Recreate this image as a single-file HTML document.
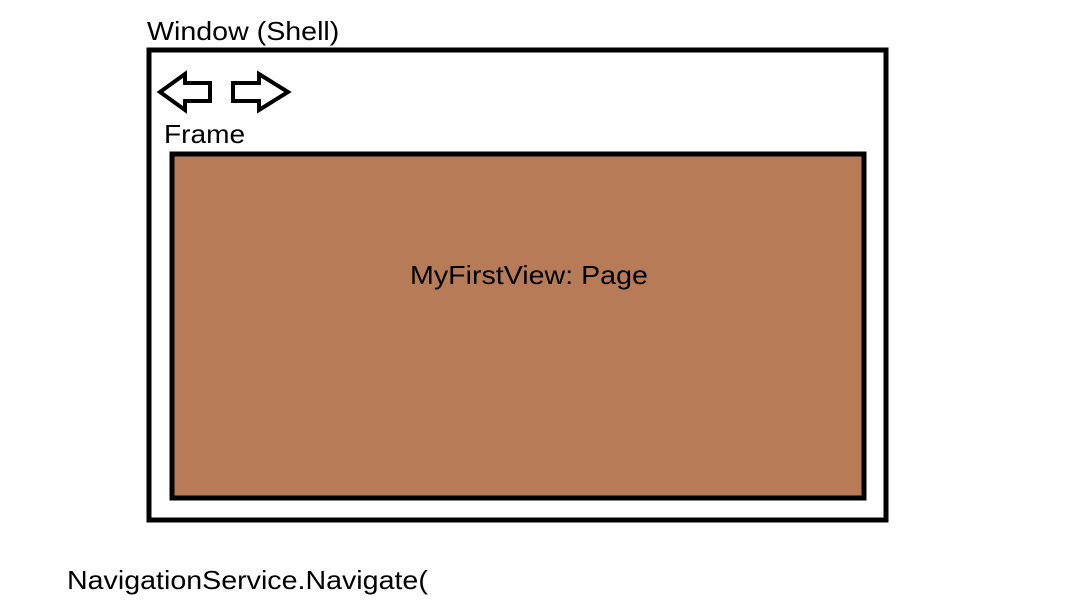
<!DOCTYPE html>
<html><head><style>
body{margin:0;width:1087px;height:614px;background:#fff;position:relative;overflow:hidden;font-family:"Liberation Sans",sans-serif;}
.t{position:absolute;font-size:26px;color:#000;white-space:nowrap;line-height:1;transform:scaleX(1.1);transform-origin:0 0;}
</style></head><body>
<svg width="1087" height="614" style="position:absolute;left:0;top:0">
<rect x="149" y="50" width="737" height="470" fill="none" stroke="#000" stroke-width="5"/>
<rect x="172" y="154" width="692" height="344" fill="#b87b58" stroke="#000" stroke-width="5"/>
<polygon points="160,92 185,74 185,83 210,83 210,101 185,101 185,110" fill="none" stroke="#000" stroke-width="4" stroke-linejoin="miter"/>
<polygon points="233,83 259,83 259,74 288,92 259,110 259,101 233,101" fill="none" stroke="#000" stroke-width="4"/>
</svg>
<div class="t" style="left:147px;top:18px;">Window (Shell)</div>
<div class="t" style="left:164px;top:121px;transform:scaleX(1.08)">Frame</div>
<div class="t" style="left:410px;top:262px;">MyFirstView: Page</div>
<div class="t" style="left:67px;top:567px;">NavigationService.Navigate(</div>
</body></html>
